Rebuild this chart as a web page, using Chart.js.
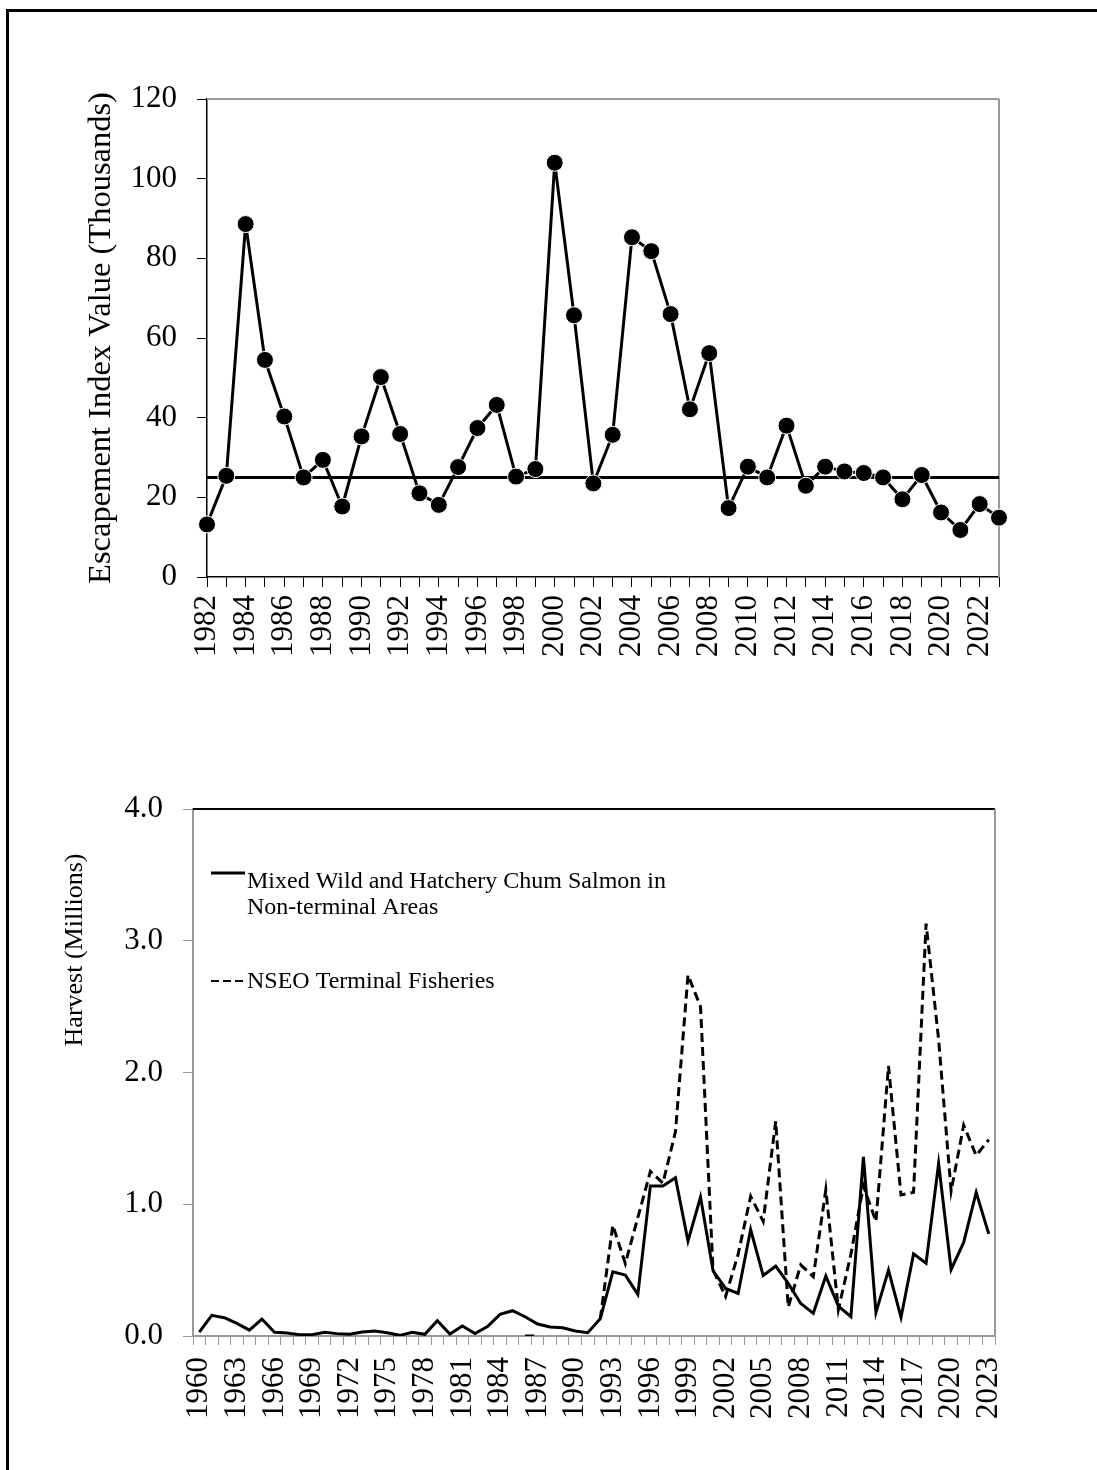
<!DOCTYPE html>
<html><head><meta charset="utf-8">
<script src="https://cdn.jsdelivr.net/npm/chart.js@4.4.0/dist/chart.umd.min.js"></script>
<style>
html,body{margin:0;padding:0;background:#fff;}
body{width:1097px;height:1470px;position:relative;overflow:hidden;}
#frame{position:absolute;left:6px;top:9px;width:1200px;height:1600px;border-top:3px solid #000;border-left:3px solid #000;}
canvas{position:absolute;left:0;}
#c1{top:0;}
#c2{top:735px;}
</style></head><body>
<div id="frame"></div>
<canvas id="c1" width="1097" height="735"></canvas>
<canvas id="c2" width="1097" height="735"></canvas>
<script>
// ---------- Data: top chart (escapement index) ----------
const escYears = ['1982','1983','1984','1985','1986','1987','1988','1989','1990','1991',
  '1992','1993','1994','1995','1996','1997','1998','1999','2000','2001',
  '2002','2003','2004','2005','2006','2007','2008','2009','2010','2011',
  '2012','2013','2014','2015','2016','2017','2018','2019','2020','2021',
  '2022','2023'];
const escValues = [13.2,25.4,88.6,54.5,40.3,25.0,29.4,17.7,35.3,50.2,
  35.9,21.0,18.1,27.6,37.4,43.2,25.2,27.1,104.0,65.7,
  23.5,35.7,85.3,81.8,66.0,42.1,56.2,17.3,27.7,25.0,
  38.0,22.9,27.7,26.5,26.1,25.0,19.5,25.6,16.2,11.8,
  18.3,14.9];
const escGoal = [25,25,25,25,25,25,25,25,25,25,25,25,25,25,25,25,25,25,25,25,25,
  25,25,25,25,25,25,25,25,25,25,25,25,25,25,25,25,25,25,25,25,25];
const escYTicks = [0,20,40,60,80,100,120];

// ---------- Data: bottom chart (harvest) ----------
const harvestYears = ['1960','1961','1962','1963','1964','1965','1966','1967','1968','1969',
  '1970','1971','1972','1973','1974','1975','1976','1977','1978','1979',
  '1980','1981','1982','1983','1984','1985','1986','1987','1988','1989',
  '1990','1991','1992','1993','1994','1995','1996','1997','1998','1999',
  '2000','2001','2002','2003','2004','2005','2006','2007','2008','2009',
  '2010','2011','2012','2013','2014','2015','2016','2017','2018','2019',
  '2020','2021','2022','2023'];
const mixedHarvest = [0.03,0.157,0.139,0.096,0.045,0.129,0.028,0.023,0.01,0.01,
  0.028,0.018,0.013,0.03,0.038,0.025,0.005,0.028,0.013,0.116,
  0.015,0.076,0.018,0.071,0.164,0.192,0.146,0.091,0.068,0.063,
  0.038,0.025,0.13,0.487,0.462,0.316,1.139,1.139,1.202,0.72,
  1.055,0.495,0.361,0.323,0.808,0.46,0.53,0.399,0.247,0.172,
  0.455,0.227,0.146,1.36,0.177,0.5,0.141,0.623,0.552,1.31,
  0.505,0.71,1.09,0.775];
const nseoHarvest = [null,null,null,null,null,null,null,null,null,null,
  null,null,null,null,null,null,null,null,null,null,
  null,null,null,null,null,null,0,0,null,null,
  null,null,0.13,0.84,0.55,0.9,1.25,1.16,1.55,2.74,
  2.5,0.5,0.3,0.62,1.06,0.87,1.63,0.22,0.54,0.45,
  1.11,0.2,0.62,1.14,0.87,2.05,1.07,1.09,3.13,2.25,
  1.1,1.6,1.37,1.49];
const harvestLegend = [
  ['Mixed Wild and Hatchery Chum Salmon in', 'Non-terminal Areas'],
  ['NSEO Terminal Fisheries']
];
const harvestTitle = 'Harvest (Millions)';

const SERIF = "'Liberation Serif', 'Times New Roman', serif";
Chart.defaults.font.family = SERIF;
Chart.defaults.color = '#000';
Chart.defaults.animation = false;

function frameLines(id, topColor, rightColor, w) {
  return {
    id: id,
    beforeDatasetsDraw(chart) {
      const a = chart.chartArea, c = chart.ctx;
      c.save();
      c.lineWidth = w;
      c.strokeStyle = topColor;
      c.beginPath(); c.moveTo(a.left, a.top); c.lineTo(a.right, a.top); c.stroke();
      c.strokeStyle = rightColor;
      c.beginPath(); c.moveTo(a.right, a.top); c.lineTo(a.right, a.bottom); c.stroke();
      c.restore();
    }
  };
}

// ---------- Top chart ----------
new Chart(document.getElementById('c1'), {
  type: 'line',
  data: {
    labels: escYears,
    datasets: [
      { label: 'Escapement Index', data: escValues, borderColor: '#000', borderWidth: 3,
        borderJoinStyle: 'round',
        pointRadius: 8.5, pointBackgroundColor: '#000', pointBorderColor: '#fff', pointBorderWidth: 1,
        tension: 0, order: 1 },
      { label: 'Goal', data: escGoal, borderColor: '#000', borderWidth: 3, pointRadius: 0, tension: 0, order: 2 }
    ]
  },
  options: {
    responsive: false,
    layout: { padding: { left: 0, top: 99, right: 98, bottom: 0 } },
    plugins: { legend: { display: false }, tooltip: { enabled: false } },
    scales: {
      x: {
        offset: false,
        grid: { drawOnChartArea: false, drawTicks: true, tickLength: 10, color: '#000', lineWidth: 1 },
        border: { display: true, color: '#000', width: 1.5 },
        ticks: { autoSkip: false, minRotation: 90, maxRotation: 90, padding: 8, font: { size: 31 },
          callback: function(v, i) { return i % 2 === 0 ? this.getLabelForValue(v) : ''; } },
        afterFit: s => { s.height = 158; }
      },
      y: {
        min: escYTicks[0], max: escYTicks[escYTicks.length - 1],
        afterBuildTicks: s => { s.ticks = escYTicks.map(v => ({ value: v })); },
        grid: { drawOnChartArea: false, drawTicks: true, tickLength: 10, color: '#000', lineWidth: 1 },
        border: { display: true, color: '#000', width: 1.5 },
        ticks: { padding: 20, font: { size: 31 } },
        title: { display: true, text: 'Escapement Index Value (Thousands)', font: { size: 32.5 },
          padding: { top: 82, bottom: 0 } },
        afterFit: s => { s.width = 207; }
      }
    }
  },
  plugins: [frameLines('f1', '#999', '#999', 2)]
});

// ---------- Bottom chart ----------
const legendPlugin = {
  id: 'harvestLegend',
  afterDatasetsDraw(chart) {
    const a = chart.chartArea, c = chart.ctx;
    c.save();
    c.font = "24px " + SERIF;
    c.fillStyle = '#000';
    c.textBaseline = 'alphabetic';
    const x0 = a.left + 18, x1 = a.left + 52, tx = a.left + 54;
    // entry 1
    c.strokeStyle = '#000'; c.lineWidth = 3; c.setLineDash([]);
    c.beginPath(); c.moveTo(x0, a.top + 64); c.lineTo(x1, a.top + 64); c.stroke();
    c.fillText(harvestLegend[0][0], tx, a.top + 79);
    c.fillText(harvestLegend[0][1], tx, a.top + 105);
    // entry 2
    c.lineWidth = 2; c.setLineDash([8, 4]);
    c.beginPath(); c.moveTo(x0, a.top + 172); c.lineTo(x1, a.top + 172); c.stroke();
    c.fillText(harvestLegend[1][0], tx, a.top + 179);
    c.restore();
  }
};
const harvestTitlePlugin = {
  id: 'harvestTitle',
  afterDraw(chart) {
    const a = chart.chartArea, c = chart.ctx;
    c.save();
    c.font = "26px " + SERIF;
    c.fillStyle = '#000';
    c.textAlign = 'center';
    c.textBaseline = 'middle';
    c.translate(75, a.top + 141);
    c.rotate(-Math.PI / 2);
    c.fillText(harvestTitle, 0, 0);
    c.restore();
  }
};

new Chart(document.getElementById('c2'), {
  type: 'line',
  data: {
    labels: harvestYears,
    datasets: [
      { label: 'Mixed Wild and Hatchery Chum Salmon in Non-terminal Areas', data: mixedHarvest,
        borderColor: '#000', borderWidth: 3, pointRadius: 0, tension: 0, spanGaps: false, order: 1 },
      { label: 'NSEO Terminal Fisheries', data: nseoHarvest, borderColor: '#000', borderWidth: 3,
        borderDash: [9, 5], pointRadius: 0, tension: 0, spanGaps: false, order: 2 }
    ]
  },
  options: {
    responsive: false,
    layout: { padding: { left: 0, top: 74, right: 102, bottom: 0 } },
    plugins: { legend: { display: false }, tooltip: { enabled: false } },
    scales: {
      x: {
        offset: true,
        grid: { offset: true, drawOnChartArea: false, drawTicks: true, tickLength: 9, color: '#999', lineWidth: 1 },
        border: { display: true, color: '#999', width: 2 },
        ticks: { autoSkip: false, minRotation: 90, maxRotation: 90, padding: 12, font: { size: 31 },
          callback: function(v, i) { return i % 3 === 0 ? this.getLabelForValue(v) : ''; } },
        afterFit: s => { s.height = 134; }
      },
      y: {
        min: 0, max: 4,
        ticks: { stepSize: 1, padding: 20, font: { size: 31 }, callback: v => Number(v).toFixed(1) },
        grid: { drawOnChartArea: false, drawTicks: true, tickLength: 10, color: '#999', lineWidth: 1 },
        border: { display: true, color: '#999', width: 2 },
        afterFit: s => { s.width = 193; }
      }
    }
  },
  plugins: [frameLines('f2', '#000', '#999', 2), legendPlugin, harvestTitlePlugin]
});
</script>
</body></html>
